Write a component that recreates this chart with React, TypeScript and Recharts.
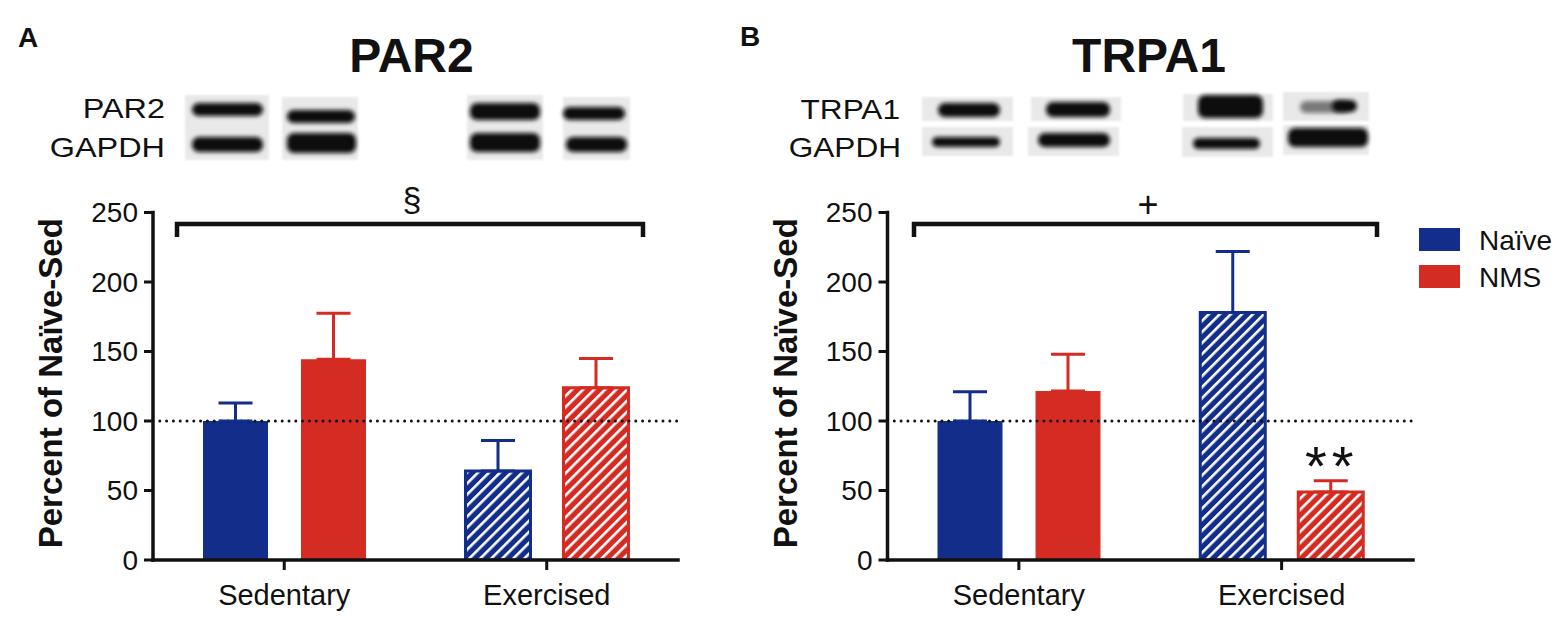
import React from 'react';
import { BarChart, Bar, XAxis, YAxis, Cell, ErrorBar, ReferenceLine, Legend, LabelList } from 'recharts';

// ---------- data ----------
const groups = ['Sedentary', 'Exercised'];
const seriesNames = ['Naïve', 'NMS'];
const yTicks = [0, 50, 100, 150, 200, 250];
const baselinePct = 100;

const par2Naive = [100, 64];
const par2NaiveErr = [13, 22];
const par2Nms = [144.5, 124];
const par2NmsErr = [33, 21];
const par2Sig = ['', ''];

const trpa1Naive = [100, 178];
const trpa1NaiveErr = [21, 44];
const trpa1Nms = [121.5, 49];
const trpa1NmsErr = [26.5, 8];
const trpa1Sig = ['', '**'];

// ---------- style ----------
const BLUE = '#132E8A';
const RED = '#D42B22';
const INK = '#111111';
const FONT = '"Liberation Sans", Arial, Helvetica, sans-serif';

const buildRows = (naive: number[], naiveErr: number[], nms: number[], nmsErr: number[], sig: string[]) =>
  groups.map((g, i) => ({
    group: g,
    naive: naive[i],
    nms: nms[i],
    naiveErr: [0, naiveErr[i]],
    nmsErr: [0, nmsErr[i]],
    sig: sig[i],
  }));

const par2Rows = buildRows(par2Naive, par2NaiveErr, par2Nms, par2NmsErr, par2Sig);
const trpa1Rows = buildRows(trpa1Naive, trpa1NaiveErr, trpa1Nms, trpa1NmsErr, trpa1Sig);

const renderYLabel = (props: any) => {
  const vb = props && props.viewBox ? props.viewBox : { x: 93, y: 212.5, width: 60, height: 347.5 };
  const bx = vb.x + vb.width - 91;
  const cy = vb.y + vb.height / 2 - 3;
  return (
    <text
      transform={`translate(${bx},${cy}) rotate(-90)`}
      textAnchor="middle"
      fontFamily={FONT}
      fontWeight="bold"
      fontSize={33}
      fill={INK}
    >
      Percent of Naïve-Sed
    </text>
  );
};

const renderSig = (props: any) => {
  const { x, y, width, value } = props;
  if (!value) return null;
  return (
    <text
      x={Number(x) + Number(width) / 2 + 1}
      y={Number(y) - 7}
      textAnchor="middle"
      fontFamily={FONT}
      fontSize={56}
      letterSpacing={5}
      fill={INK}
    >
      {value}
    </text>
  );
};

const renderLegend = (props: any) => {
  const payload = ((props && props.payload) || [])
    .slice()
    .sort((a: any, b: any) => seriesNames.indexOf(a.value) - seriesNames.indexOf(b.value));
  return (
    <svg width={142} height={70} style={{ display: 'block', overflow: 'visible' }}>
      {payload.map((p: any, i: number) => (
        <g key={i} transform={`translate(0,${i * 37})`}>
          <rect x={0} y={0} width={41} height={23} fill={p.color} />
          <text x={60} y={22} fontFamily={FONT} fontSize={28} fill={INK}>
            {p.value}
          </text>
        </g>
      ))}
    </svg>
  );
};

type PanelProps = {
  rows: any[];
  width: number;
  margin: { top: number; right: number; bottom: number; left: number };
  legend?: boolean;
};

const Panel = ({ rows, width, margin, legend }: PanelProps) => (
  <BarChart width={width} height={617} data={rows} margin={margin} barGap={33}>
    <XAxis
      dataKey="group"
      height={50}
      tickSize={10}
      tickMargin={14}
      axisLine={{ stroke: INK, strokeWidth: 3.5, strokeLinecap: 'square' }}
      tickLine={{ stroke: INK, strokeWidth: 3 }}
      tick={{ fill: INK, fontSize: 29, fontFamily: FONT }}
    />
    <YAxis
      domain={[0, 250]}
      ticks={yTicks}
      interval={0}
      width={60}
      tickSize={9}
      tickMargin={6}
      allowDataOverflow
      axisLine={{ stroke: INK, strokeWidth: 3.5, strokeLinecap: 'square' }}
      tickLine={{ stroke: INK, strokeWidth: 3 }}
      tick={{ fill: INK, fontSize: 28, fontFamily: FONT }}
      label={renderYLabel}
    />
    <ReferenceLine
      y={baselinePct}
      stroke={INK}
      strokeWidth={3}
      strokeDasharray="0 6.8"
      strokeLinecap="round"
    />
    <Bar dataKey="naive" name={seriesNames[0]} fill={BLUE} barSize={65} isAnimationActive={false}>
      {rows.map((_, i) =>
        i === 0 ? (
          <Cell key={i} fill={BLUE} />
        ) : (
          <Cell key={i} fill="url(#hatchBlue)" stroke={BLUE} strokeWidth={3} />
        )
      )}
      <ErrorBar dataKey="naiveErr" direction="y" width={17} stroke={BLUE} strokeWidth={3} isAnimationActive={false} />
    </Bar>
    <Bar dataKey="nms" name={seriesNames[1]} fill={RED} barSize={65} isAnimationActive={false}>
      {rows.map((_, i) =>
        i === 0 ? (
          <Cell key={i} fill={RED} />
        ) : (
          <Cell key={i} fill="url(#hatchRed)" stroke={RED} strokeWidth={3} />
        )
      )}
      <ErrorBar dataKey="nmsErr" direction="y" width={17} stroke={RED} strokeWidth={3} isAnimationActive={false} />
      <LabelList dataKey="sig" content={renderSig} />
    </Bar>
    {legend ? (
      <Legend
        layout="vertical"
        align="center"
        verticalAlign="middle"
        content={renderLegend}
        wrapperStyle={{ left: 659, top: 228, width: 142, height: 70 }}
      />
    ) : null}
  </BarChart>
);

// ---------- western-blot strips (decorative image content) ----------
type Band = { x: number; y: number; w: number; h: number; o?: number };
type Lane = { boxes: number[][]; bands: Band[] };
const blotLayout: Lane[] = [
  { boxes: [[185, 95, 84, 65]], bands: [{ x: 192, y: 103, w: 71, h: 13 }, { x: 192, y: 137, w: 71, h: 15 }] },
  { boxes: [[282, 97, 76, 63]], bands: [{ x: 287, y: 110, w: 68, h: 13 }, { x: 287, y: 133, w: 69, h: 20 }] },
  { boxes: [[467, 95, 76, 65]], bands: [{ x: 470, y: 103, w: 70, h: 17 }, { x: 470, y: 133, w: 70, h: 19 }] },
  { boxes: [[563, 97, 67, 63]], bands: [{ x: 563, y: 107, w: 62, h: 13 }, { x: 566, y: 137, w: 61, h: 15 }] },
  { boxes: [[922, 97, 91, 24], [922, 127, 91, 29]], bands: [{ x: 938, y: 103, w: 62, h: 14 }, { x: 932, y: 137, w: 68, h: 10 }] },
  { boxes: [[1031, 97, 90, 24], [1028, 127, 91, 29]], bands: [{ x: 1046, y: 102, w: 64, h: 15 }, { x: 1038, y: 133, w: 72, h: 14 }] },
  { boxes: [[1183, 94, 90, 27], [1182, 127, 91, 30]], bands: [{ x: 1198, y: 95, w: 65, h: 23 }, { x: 1193, y: 138, w: 67, h: 11 }] },
  {
    boxes: [[1283, 92, 86, 29], [1283, 125, 86, 30]],
    bands: [
      { x: 1300, y: 101, w: 50, h: 12, o: 0.5 },
      { x: 1332, y: 100, w: 25, h: 12 },
      { x: 1288, y: 128, w: 80, h: 19 },
    ],
  },
];

const Overlay = () => (
  <svg
    width={1562}
    height={617}
    style={{ position: 'absolute', left: 0, top: 0, pointerEvents: 'none' }}
  >
    <defs>
      <pattern id="hatchBlue" patternUnits="userSpaceOnUse" width={7.8} height={7.8} patternTransform="rotate(45)">
        <rect x={0} y={0} width={7.8} height={7.8} fill={BLUE} />
        <rect x={0} y={0} width={2.6} height={7.8} fill="#ffffff" />
      </pattern>
      <pattern id="hatchRed" patternUnits="userSpaceOnUse" width={7.8} height={7.8} patternTransform="rotate(45)">
        <rect x={0} y={0} width={7.8} height={7.8} fill={RED} />
        <rect x={0} y={0} width={2.6} height={7.8} fill="#ffffff" />
      </pattern>
      <filter id="blotBlur" x="-20%" y="-50%" width="140%" height="200%">
        <feGaussianBlur stdDeviation={2.2} />
      </filter>
      <filter id="boxBlur">
        <feGaussianBlur stdDeviation={0.8} />
      </filter>
    </defs>

    {/* panel letters and titles */}
    <text x={18} y={47} fontFamily={FONT} fontWeight="bold" fontSize={28} fill={INK}>A</text>
    <text x={740} y={46} fontFamily={FONT} fontWeight="bold" fontSize={28} fill={INK}>B</text>
    <text x={411.5} y={72} textAnchor="middle" fontFamily={FONT} fontWeight="bold" fontSize={48} fill={INK}>PAR2</text>
    <text x={1149} y={72} textAnchor="middle" fontFamily={FONT} fontWeight="bold" fontSize={48} fill={INK}>TRPA1</text>

    {/* blot row labels */}
    <text transform="translate(165,118) scale(1.2,1)" textAnchor="end" fontFamily={FONT} fontSize={27} fill={INK}>PAR2</text>
    <text transform="translate(165,157) scale(1.2,1)" textAnchor="end" fontFamily={FONT} fontSize={27} fill={INK}>GAPDH</text>
    <text transform="translate(900,119) scale(1.17,1)" textAnchor="end" fontFamily={FONT} fontSize={27} fill={INK}>TRPA1</text>
    <text transform="translate(901,157) scale(1.17,1)" textAnchor="end" fontFamily={FONT} fontSize={27} fill={INK}>GAPDH</text>

    {/* blot strips */}
    {blotLayout.map((lane, li) => (
      <g key={li}>
        {lane.boxes.map((b, bi) => (
          <rect key={bi} x={b[0]} y={b[1]} width={b[2]} height={b[3]} fill="#e9e9e9" filter="url(#boxBlur)" />
        ))}
        {lane.bands.map((b, bi) => (
          <rect
            key={bi}
            x={b.x}
            y={b.y}
            width={b.w}
            height={b.h}
            rx={Math.min(7, b.h / 2)}
            fill="#0b0b0b"
            opacity={b.o ?? 1}
            filter="url(#blotBlur)"
          />
        ))}
      </g>
    ))}

    {/* significance brackets */}
    <path d="M177,237 V224 H643 V237" fill="none" stroke={INK} strokeWidth={4.5} />
    <text x={412} y={211} textAnchor="middle" fontFamily={FONT} fontSize={34} fill={INK}>§</text>
    <path d="M914,237 V224 H1377 V237" fill="none" stroke={INK} strokeWidth={4.5} />
    <text x={1148} y={217} textAnchor="middle" fontFamily={FONT} fontSize={36} fill={INK}>+</text>
  </svg>
);

export default function App() {
  return (
    <div style={{ position: 'absolute', left: 0, top: 0, width: 1562, height: 617, background: '#ffffff', overflow: 'hidden' }}>
      <div style={{ position: 'absolute', left: 0, top: 0 }}>
        <Panel rows={par2Rows} width={700} margin={{ top: 212.5, right: 22, bottom: 7, left: 93 }} />
      </div>
      <div style={{ position: 'absolute', left: 760, top: 0 }}>
        <Panel rows={trpa1Rows} width={802} margin={{ top: 212.5, right: 149, bottom: 7, left: 67.5 }} legend />
      </div>
      <Overlay />
    </div>
  );
}
